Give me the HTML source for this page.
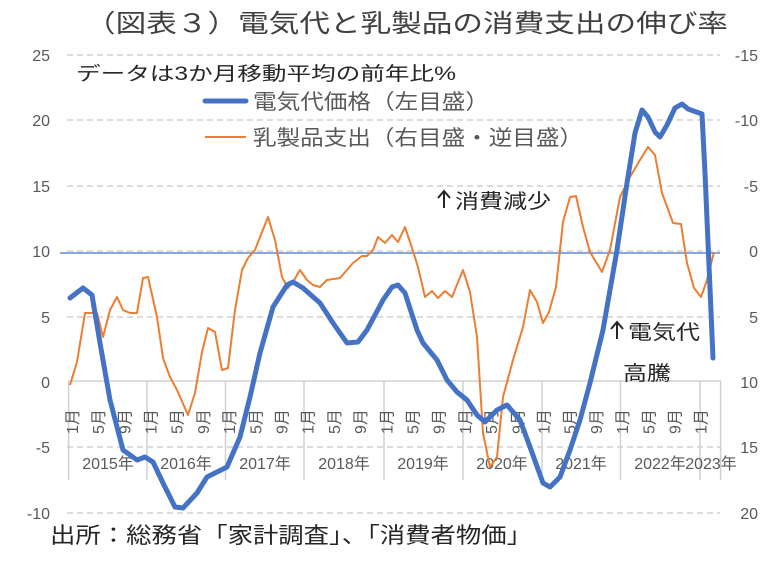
<!DOCTYPE html>
<html><head><meta charset="utf-8"><style>
html,body{margin:0;padding:0;background:#fff;}
svg{display:block;font-family:"Liberation Sans","Noto Sans CJK JP",sans-serif;}
</style></head><body>
<svg width="782" height="582" viewBox="0 0 782 582" xmlns="http://www.w3.org/2000/svg">
<rect width="782" height="582" fill="#fff"/>
<g stroke="#d0d0d0" stroke-width="1.5" stroke-dasharray="6,4" fill="none">
<line x1="67" y1="55" x2="720" y2="55"/>
<line x1="67" y1="120" x2="720" y2="120"/>
<line x1="67" y1="186" x2="720" y2="186"/>
<line x1="67" y1="251" x2="720" y2="251"/>
<line x1="67" y1="317" x2="720" y2="317"/>
<line x1="67" y1="447" x2="720" y2="447"/>
<line x1="67" y1="513" x2="720" y2="513"/>
</g>
<line x1="60" y1="253" x2="720" y2="253" stroke="#4472c4" stroke-width="1.2"/>
<line x1="68" y1="381" x2="721" y2="381" stroke="#d0d0d0" stroke-width="1.5"/>
<g stroke="#d0d0d0" stroke-width="1.5">
<line x1="68.6" y1="381" x2="68.6" y2="480"/><line x1="147" y1="381" x2="147" y2="480"/>
<line x1="225.5" y1="381" x2="225.5" y2="480"/><line x1="304" y1="381" x2="304" y2="480"/>
<line x1="384" y1="381" x2="384" y2="480"/><line x1="463" y1="381" x2="463" y2="480"/>
<line x1="542" y1="381" x2="542" y2="480"/><line x1="620.5" y1="381" x2="620.5" y2="480"/>
<line x1="700" y1="381" x2="700" y2="480"/><line x1="720.6" y1="381" x2="720.6" y2="480"/>
</g>
<g font-size="16" fill="#595959" id="months"></g>
<g font-size="16" fill="#595959" text-anchor="middle">
<text x="108" y="469">2015年</text><text x="186" y="469">2016年</text>
<text x="265" y="469">2017年</text><text x="344" y="469">2018年</text>
<text x="423" y="469">2019年</text><text x="502" y="469">2020年</text>
<text x="581" y="469">2021年</text><text x="660" y="469">2022年</text>
<text x="711" y="469">2023年</text>
</g>
<g font-size="16" fill="#595959" text-anchor="end">
<text x="50" y="61">25</text><text x="50" y="126">20</text><text x="50" y="192">15</text>
<text x="50" y="257">10</text><text x="50" y="323">5</text><text x="50" y="388">0</text>
<text x="50" y="453">-5</text><text x="50" y="519">-10</text>
</g>
<g font-size="16" fill="#595959" text-anchor="end">
<text x="758" y="61">-15</text><text x="758" y="126">-10</text><text x="758" y="192">-5</text>
<text x="758" y="257">0</text><text x="758" y="323">5</text><text x="758" y="388">10</text>
<text x="758" y="453">15</text><text x="758" y="519">20</text>
</g>
<polyline fill="none" stroke="#ed7d31" stroke-width="2" stroke-linejoin="round" points="70,385 77,362 85,313 97,313 103,337 110,310 117,297 123,310 130,313 137,313 143,278 148,277 157,317 163,358 170,377 177,390 188,415 195,393 202,352 208,328 215,332 222,370 228,368 235,310 242,270 248,258 255,250 262,232 268,217 275,240 282,277 288,288 293,282 300,270 307,280 313,285 320,287 327,280 340,278 353,263 362,256 367,256 373,250 378,237 385,243 392,235 398,242 405,227 412,248 418,267 425,297 432,291 438,298 445,291 452,297 463,270 470,292 477,337 483,433 490,467 497,457 503,397 513,360 523,327 530,290 537,302 543,323 549,312 556,287 563,222 570,197 576,196 583,227 590,252 602,272 610,250 620,197 630,177 640,160 648,147 655,155 662,193 673,223 681,224 687,263 694,288 701,297 707,280 714,252"/>
<polyline fill="none" stroke="#4472c4" stroke-width="5" stroke-linejoin="round" stroke-linecap="round" points="70,298 83,288 92,295 100,343 110,400 123,450 137,460 145,457 153,462 163,483 175,507 183,508 197,493 207,477 217,472 227,467 240,437 250,397 260,353 273,307 287,285 293,282 303,288 320,303 333,323 347,343 358,342 367,330 383,300 392,287 398,285 405,293 417,330 423,343 437,360 447,380 457,392 467,400 477,415 485,422 497,410 507,405 520,420 530,447 543,483 550,487 560,477 570,450 580,420 590,383 603,330 617,250 627,183 635,133 642,110 648,117 655,132 660,137 667,125 675,108 682,104 688,109 702,114 705,173 713,358"/>
<text x="85" y="32" font-size="25" fill="#404040" textLength="643" lengthAdjust="spacingAndGlyphs">（図表３）電気代と乳製品の消費支出の伸び率</text>
<text x="76" y="80" font-size="19" fill="#262626" textLength="380" lengthAdjust="spacingAndGlyphs">データは3か月移動平均の前年比%</text>
<line x1="205" y1="101" x2="246" y2="101" stroke="#4472c4" stroke-width="5" stroke-linecap="round"/>
<text x="253" y="109" font-size="21" fill="#595959" textLength="236" lengthAdjust="spacingAndGlyphs">電気代価格（左目盛）</text>
<line x1="205" y1="137" x2="246" y2="137" stroke="#ed7d31" stroke-width="2"/>
<text x="253" y="145" font-size="21" fill="#595959" textLength="330" lengthAdjust="spacingAndGlyphs">乳製品支出（右目盛・逆目盛）</text>
<g stroke="#262626" stroke-width="2" fill="none"><path d="M444 208V192M438 198L444 191L450 198"/><path d="M617 339V323M611 329L617 322L623 329"/></g>
<text x="455" y="208" font-size="20" fill="#262626" textLength="96" lengthAdjust="spacingAndGlyphs">消費減少</text>
<text x="628" y="339" font-size="20" fill="#262626" textLength="72" lengthAdjust="spacingAndGlyphs">電気代</text>
<text x="623" y="380" font-size="20" fill="#262626" textLength="48" lengthAdjust="spacingAndGlyphs">高騰</text>
<text x="50" y="543" font-size="22" fill="#262626" textLength="482" lengthAdjust="spacingAndGlyphs">出所：総務省「家計調査」、「消費者物価」</text>
</svg>
<script>
(function(){var g=document.getElementById('months');var ns='http://www.w3.org/2000/svg';
for(var i=0;i<99;i+=4){var m=(i%12)+1;var x=68.6+(i+0.5)*6.55;
var t=document.createElementNS(ns,'text');t.setAttribute('transform','translate('+(x+6)+',434) rotate(-90)');t.textContent=m+'月';g.appendChild(t);}})();
</script>
</body></html>
